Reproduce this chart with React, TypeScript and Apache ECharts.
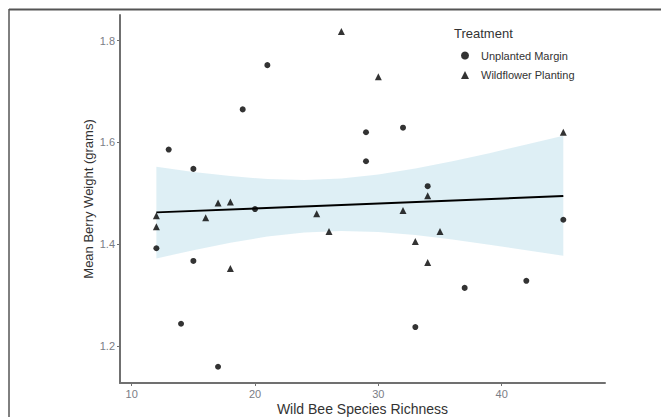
import React, { useEffect, useRef } from "react";
import * as echarts from "echarts";

const unplantedMargin: [number, number][] = [
  [12, 1.392], [13, 1.586], [14, 1.2435], [15, 1.548], [15, 1.367], [17, 1.159],
  [19, 1.665], [20, 1.469], [21, 1.752], [29, 1.62], [29, 1.563], [32, 1.629],
  [33, 1.237], [34, 1.514], [37, 1.314], [42, 1.328], [45, 1.448],
];

const wildflowerPlanting: [number, number][] = [
  [12, 1.456], [12, 1.434], [16, 1.452], [17, 1.481], [18, 1.483], [18, 1.352],
  [25, 1.46], [26, 1.425], [27, 1.818], [30, 1.729], [32, 1.466], [33, 1.405],
  [34, 1.495], [34, 1.364], [35, 1.425], [45, 1.62],
];

const fitX = [12, 45];
const fitY = [1.4625, 1.4946];

const bandX = [12, 15, 18, 21, 24, 27, 30, 33, 36, 39, 42, 45];
const bandUpper = [1.552, 1.542, 1.534, 1.528, 1.526, 1.529, 1.537, 1.549, 1.563, 1.579, 1.596, 1.613];
const bandLower = [1.372, 1.388, 1.403, 1.415, 1.423, 1.426, 1.424, 1.418, 1.409, 1.399, 1.388, 1.377];

const xTicks = [10, 20, 30, 40];
const yTicks = [1.2, 1.4, 1.6, 1.8];

const FONT = "'Liberation Sans', Arial, sans-serif";

export default function App() {
  const ref = useRef<HTMLDivElement>(null);
  useEffect(() => {
    document.body.style.margin = "0";
    if (!ref.current) return;
    const chart = echarts.init(ref.current, null, { renderer: "svg" });
    const axisColor = "#707070";
    const labelColor = "#7a7d86";
    chart.setOption({
      animation: false,
      backgroundColor: "#ffffff",
      textStyle: { fontFamily: FONT },
      grid: { left: 120, top: 15, right: 56, bottom: 34, containLabel: false, outerBoundsMode: "none" },
      title: {
        text: "Treatment",
        left: 449,
        top: 22,
        textStyle: { fontSize: 13, fontWeight: "normal", color: "#333333", fontFamily: FONT },
      },
      legend: {
        data: ["Unplanted Margin", "Wildflower Planting"],
        orient: "vertical",
        left: 456,
        top: 45,
        itemWidth: 8,
        itemHeight: 8,
        itemGap: 8.6,
        textStyle: { fontSize: 11, color: "#333333", fontFamily: FONT, padding: [0, 0, 0, 7] },
      },
      xAxis: {
        type: "value",
        min: 9.05,
        max: 48.38,
        name: "Wild Bee Species Richness",
        nameLocation: "middle",
        nameGap: 19,
        nameMoveOverlap: false,
        nameTextStyle: { fontSize: 14, color: "#333333", fontFamily: FONT },
        axisLine: { show: true, lineStyle: { color: axisColor, width: 2 } },
        axisTick: { show: true, length: 3, customValues: xTicks, lineStyle: { color: axisColor } },
        axisLabel: { customValues: xTicks, fontSize: 11, color: labelColor, margin: 5 },
        splitLine: { show: false },
      },
      yAxis: {
        type: "value",
        min: 1.127,
        max: 1.8506,
        name: "Mean Berry Weight (grams)",
        nameLocation: "middle",
        nameGap: 25,
        nameMoveOverlap: false,
        nameTextStyle: { fontSize: 13, color: "#333333", fontFamily: FONT },
        axisLine: { show: true, lineStyle: { color: axisColor, width: 2 } },
        axisTick: { show: true, length: 3, customValues: yTicks, lineStyle: { color: axisColor } },
        axisLabel: {
          customValues: yTicks,
          fontSize: 11,
          color: labelColor,
          margin: 5,
          formatter: (v: number) => v.toFixed(1),
        },
        splitLine: { show: false },
      },
      graphic: [
        { type: "line", shape: { x1: 9, y1: 9, x2: 9, y2: 417 }, style: { stroke: "#000", lineWidth: 1 }, z: 100, silent: true },
        { type: "line", shape: { x1: 9, y1: 9.5, x2: 661, y2: 9.5 }, style: { stroke: "#555", lineWidth: 2 }, z: 100, silent: true },
      ],
      series: [
        {
          name: "Unplanted Margin",
          type: "scatter",
          symbol: "circle",
          symbolSize: 6,
          itemStyle: { color: "#000000" },
          data: unplantedMargin,
        },
        {
          name: "Wildflower Planting",
          type: "scatter",
          symbol: "triangle",
          symbolSize: 7,
          itemStyle: { color: "#000000" },
          data: wildflowerPlanting,
        },
        {
          name: "CI",
          type: "custom",
          data: bandX.map((x, i) => [x, bandLower[i], bandUpper[i]]),
          encode: { x: 0, y: [1, 2] },
          renderItem: (params: any, api: any) => {
            if (params.dataIndex !== 0) return null;
            const pts: number[][] = [];
            for (let i = 0; i < bandX.length; i++) pts.push(api.coord([bandX[i], bandUpper[i]]));
            for (let i = bandX.length - 1; i >= 0; i--) pts.push(api.coord([bandX[i], bandLower[i]]));
            return {
              type: "polygon",
              shape: { points: pts },
              style: { fill: "rgba(173,216,230,0.4)", stroke: "none" },
            };
          },
          silent: true,
        },
        {
          name: "fit",
          type: "line",
          data: fitX.map((x, i) => [x, fitY[i]]),
          symbol: "none",
          lineStyle: { color: "#000000", width: 2 },
          silent: true,
        },
      ],
    });
    return () => chart.dispose();
  }, []);
  return <div ref={ref} style={{ width: 661, height: 417 }} />;
}
